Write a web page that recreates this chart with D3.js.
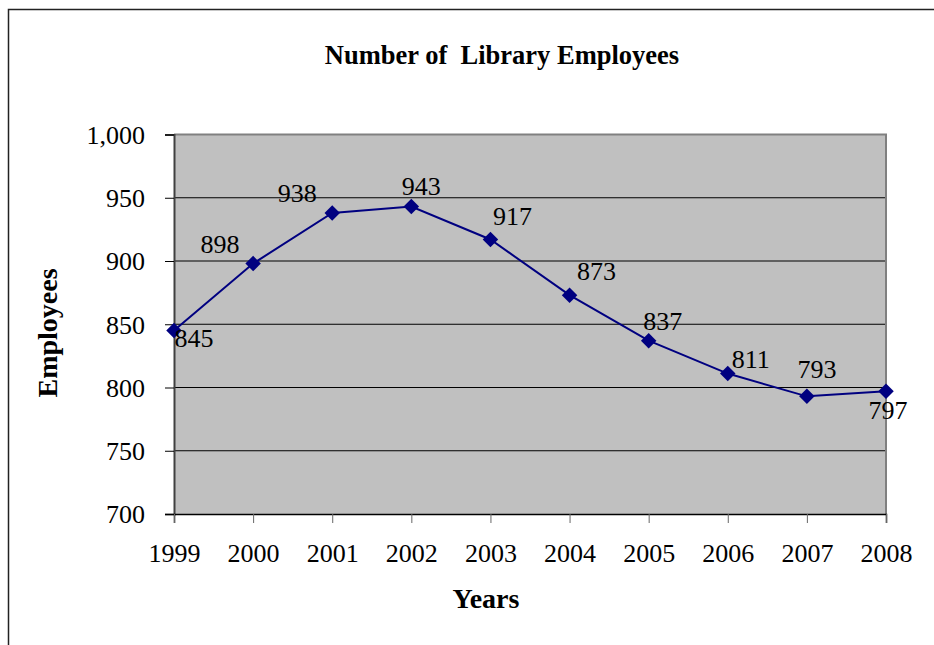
<!DOCTYPE html>
<html><head><meta charset="utf-8">
<script src="https://cdn.jsdelivr.net/npm/d3@7"></script>
<style>body{margin:0;background:#fff;}svg{display:block;font-family:"Liberation Serif","Times New Roman",serif;}</style>
</head><body>
<svg id="c" width="934" height="645"></svg>
<script>
const years = ["1999","2000","2001","2002","2003","2004","2005","2006","2007","2008"];
const employees = [845, 898, 938, 943, 917, 873, 837, 811, 793, 797];
const yTicks = [700, 750, 800, 850, 900, 950, 1000];
// label offsets relative to the point (styling, not data)
const labelDx = [20, -33, -35, 10, 22, 27, 14, 23, 10, 2];
const labelDy = [8, -19, -19, -20, -23, -24, -19, -14, -27, 19];

const svg = d3.select("#c");
const L = 174, R = 886, T = 134.5, B = 514;
const x = d3.scalePoint().domain(years).range([L, R]).padding(0);
const y = d3.scaleLinear().domain([700, 1000]).range([B, T]);
const FS = 26;

// outer frame
svg.append("path").attr("d", "M8.5,645 L8.5,9.5 L934,9.5").attr("fill","none").attr("stroke","#222").attr("stroke-width",1.5);

// plot bg
svg.append("rect").attr("x", L).attr("y", T).attr("width", R-L).attr("height", B-T).attr("fill", "#c0c0c0");

// grid
svg.append("g").selectAll("line").data(yTicks.filter(d=>d>700)).join("line")
  .attr("x1", L).attr("x2", R).attr("y1", d=>y(d)).attr("y2", d=>y(d)).attr("stroke","#000").attr("stroke-width",1);

// plot border right/top
svg.append("path").attr("d", `M${L},${T} L${R},${T} L${R},${B}`).attr("fill","none").attr("stroke","#808080").attr("stroke-width",2);

// y axis
const ya = d3.axisLeft(y).tickValues(yTicks).tickSize(9).tickPadding(20).tickFormat(d3.format(","));
const gy = svg.append("g").attr("transform", `translate(${L},0)`).call(ya);
gy.select(".domain").attr("stroke","#404040").attr("stroke-width",2);
gy.selectAll(".tick line").attr("stroke","#000");
gy.selectAll("text").attr("font-size", FS).attr("font-family","Liberation Serif").attr("fill","#000").attr("dy","0.34em");

// x axis
const xa = d3.axisBottom(x).tickSize(9).tickPadding(21);
const gx = svg.append("g").attr("transform", `translate(0,${B})`).call(xa);
gx.select(".domain").attr("stroke","#000").attr("stroke-width",1.5);
gx.selectAll(".tick line").attr("stroke","#666");
gx.selectAll("text").attr("font-size", FS).attr("font-family","Liberation Serif").attr("fill","#000");

// line
const line = d3.line().x((d,i)=>x(years[i])).y(d=>y(d));
svg.append("path").datum(employees).attr("d", line).attr("fill","none").attr("stroke","#000080").attr("stroke-width",2);

// markers (square diamond)
const diamond = { draw(ctx, size) { const r = Math.sqrt(size/2); ctx.moveTo(0,-r); ctx.lineTo(r,0); ctx.lineTo(0,r); ctx.lineTo(-r,0); ctx.closePath(); } };
svg.append("g").selectAll("path").data(employees).join("path")
  .attr("d", d3.symbol(diamond, 120))
  .attr("transform", (d,i)=>`translate(${x(years[i])},${y(d)})`)
  .attr("fill","#000080");

// data labels
svg.append("g").selectAll("text").data(employees).join("text")
  .attr("x", (d,i)=>x(years[i]) + labelDx[i])
  .attr("y", (d,i)=>y(d) + labelDy[i])
  .attr("text-anchor","middle").attr("dominant-baseline","central")
  .attr("font-size", FS).attr("fill","#000").text(d=>d);

// titles
svg.append("text").attr("x", 502).attr("y", 64).attr("text-anchor","middle")
  .attr("font-size", 26.5).attr("font-weight","bold").attr("xml:space","preserve").text("Number of  Library Employees");
svg.append("text").attr("x", 486).attr("y", 608).attr("text-anchor","middle")
  .attr("font-size", 28).attr("font-weight","bold").text("Years");
svg.append("text").attr("transform","translate(57,333) rotate(-90)").attr("text-anchor","middle")
  .attr("font-size", 28).attr("font-weight","bold").text("Employees");
</script>
</body></html>
